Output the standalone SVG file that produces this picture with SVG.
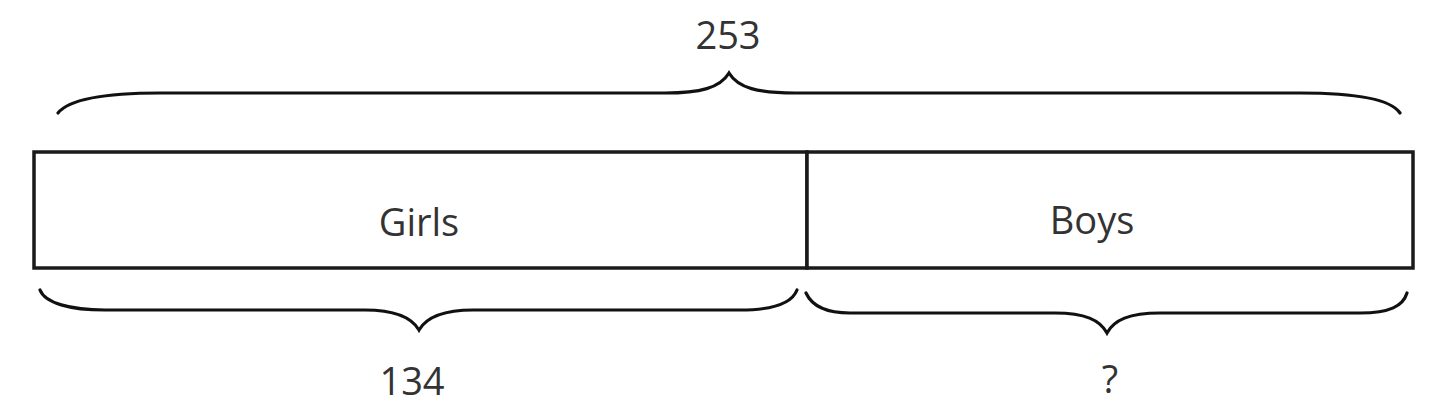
<svg xmlns="http://www.w3.org/2000/svg" width="1440" height="414" viewBox="0 0 1440 414">
<style>
.box{fill:#fff;stroke:#1a1a1a;stroke-width:3.5}
.brace{fill:none;stroke:#111;stroke-width:3.2;stroke-linecap:round;stroke-linejoin:miter}
.lbl{font-family:"Open Sans","Liberation Sans",sans-serif;font-size:38px;fill:#333;text-anchor:middle}
</style>
<rect width="1440" height="414" fill="#fff"/>
<g id="girls">
<rect class="box" x="34" y="152" width="773" height="116"/>
<text class="lbl" x="419" y="236">Girls</text>
</g>
<g id="boys">
<rect class="box" x="807" y="152" width="606" height="116"/>
<text class="lbl" x="1092" y="234">Boys</text>
</g>
<g id="connectors">
<path class="brace" d="M58,113 C70,98 110,93 160,93 L665,93 C700,93 720,88 729,73 C738,88 758,93 795,93 L1300,93 C1350,93 1390,98 1400,113"/>
<path class="brace" d="M40,290 C45,303 70,310 105,310 L365,310 C395,310 412,318 419,330 C426,318 443,310 473,310 L740,310 C775,310 792,303 797,290"/>
<path class="brace" d="M806,293 C812,306 825,313 850,313 L1055,313 C1085,313 1100,320 1107,333 C1114,320 1129,313 1160,313 L1360,313 C1390,313 1403,306 1407,293"/>
</g>
<g id="labels">
<text class="lbl" x="728" y="49">253</text>
<text class="lbl" x="412" y="395">134</text>
<text class="lbl" x="1110" y="393">?</text>
</g>
</svg>
